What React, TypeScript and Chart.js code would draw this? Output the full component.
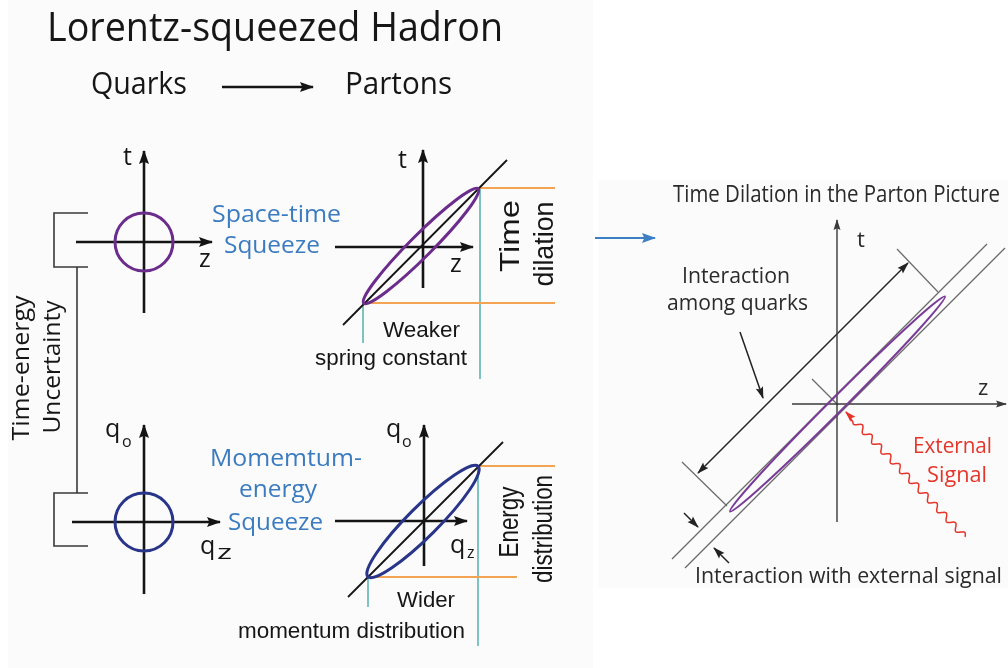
import React, { useEffect, useRef } from "react";
import { Chart, registerables } from "chart.js";

Chart.register(...registerables);

const SHEET_W = 1008;
const SHEET_H = 668;

type Pt = [number, number];

// ---- diagram geometry (sheet units) ----
const quarkToParton: Pt[] = [[222, 87], [313, 87]];
const stQuarkT: Pt[] = [[144, 313], [144, 151]];
const stQuarkZ: Pt[] = [[76, 242], [212, 242]];
const meQuarkQ0: Pt[] = [[144, 594], [144, 425]];
const meQuarkQz: Pt[] = [[72, 522], [220, 522]];
const stPartonT: Pt[] = [[423, 288], [423, 150]];
const stPartonZ: Pt[] = [[335, 247], [473, 247]];
const stLightCone: Pt[] = [[343, 325], [507, 160]];
const mePartonQ0: Pt[] = [[424, 566], [424, 425]];
const mePartonQz: Pt[] = [[335, 521], [467, 521]];
const meLightCone: Pt[] = [[348, 597], [503, 442]];
const bracketTop: Pt[] = [[88, 213], [54, 213], [54, 267], [88, 267]];
const bracketLink: Pt[] = [[77, 267], [77, 493]];
const bracketBottom: Pt[] = [[88, 493], [54, 493], [54, 546], [88, 546]];
const dilationTop: Pt[] = [[480, 188], [555, 188]];
const dilationBottom: Pt[] = [[363, 303], [555, 303]];
const energyTop: Pt[] = [[478, 466], [555, 466]];
const energyBottom: Pt[] = [[368, 577], [517, 577]];
const springLeft: Pt[] = [[363, 303], [363, 343]];
const springRight: Pt[] = [[480, 188], [480, 379]];
const momentumLeft: Pt[] = [[368, 577], [368, 607]];
const momentumRight: Pt[] = [[478, 466], [478, 646]];
const toPartonPicture: Pt[] = [[595, 238], [655, 238]];
const ppTimeAxis: Pt[] = [[837, 522], [837, 220]];
const ppZAxis: Pt[] = [[792, 404], [1006, 404]];
const ppBandUpper: Pt[] = [[672, 559], [987, 244]];
const ppBandLower: Pt[] = [[685, 568], [1005, 248]];
const ppTickTop: Pt[] = [[897, 249], [938, 292]];
const ppTickBottom: Pt[] = [[682, 462], [727, 506]];
const ppTickCenter: Pt[] = [[812, 379], [838, 405]];
const ppQuarkSpan: Pt[] = [[698, 473], [908, 263]];
const ppQuarkPointer: Pt[] = [[740, 332], [763, 398]];
const ppBandArrowIn: Pt[] = [[684, 513], [698, 527]];
const ppBandArrowOut: Pt[] = [[729, 563], [714, 548]];
const externalSignal: Pt[] = [[965, 537], [846, 412]];

// ellipses: centre, semi-major, semi-minor, tilt (deg, screen)
const ellipseCentres: Pt[] = [[144, 242], [144, 522], [421, 246], [423, 521.5], [837.5, 404]];
const ellipseMajor = [29, 29, 81, 78, 152];
const ellipseMinor = [29, 29, 11, 15, 7];
const ellipseTilt = [0, 0, -45, -45, -45];
const ellipseKind = ["purple", "navy", "purple", "navy", "purpleThin"];

// ---- styles ----
const STYLE: Record<string, { color: string; width: number; head?: [number, number] }> = {
  axis: { color: "#141414", width: 2.6, head: [13, 5] },
  cone: { color: "#141414", width: 1.8 },
  bracket: { color: "#3a3a3a", width: 1.6 },
  orange: { color: "#f2a453", width: 2 },
  teal: { color: "#7cc3c1", width: 2 },
  blue: { color: "#3d7fc4", width: 2.2, head: [13, 5] },
  ppAxis: { color: "#3a3a3a", width: 1.4, head: [10, 3.5] },
  ppLine: { color: "#6a6a6a", width: 1.2 },
  ppArrow: { color: "#222222", width: 1.5, head: [11, 3.8] },
};

const ELLIPSE_STYLE: Record<string, { color: string; width: number }> = {
  purple: { color: "#6b2c8c", width: 3 },
  navy: { color: "#283589", width: 3 },
  purpleThin: { color: "#7a3b98", width: 2 },
};

const strokes: { pts: Pt[]; style: string; end?: boolean; start?: boolean }[] = [
  { pts: quarkToParton, style: "axis", end: true },
  { pts: stQuarkT, style: "axis", end: true },
  { pts: stQuarkZ, style: "axis", end: true },
  { pts: meQuarkQ0, style: "axis", end: true },
  { pts: meQuarkQz, style: "axis", end: true },
  { pts: stPartonT, style: "axis", end: true },
  { pts: stPartonZ, style: "axis", end: true },
  { pts: stLightCone, style: "cone" },
  { pts: mePartonQ0, style: "axis", end: true },
  { pts: mePartonQz, style: "axis", end: true },
  { pts: meLightCone, style: "cone" },
  { pts: bracketTop, style: "bracket" },
  { pts: bracketLink, style: "bracket" },
  { pts: bracketBottom, style: "bracket" },
  { pts: dilationTop, style: "orange" },
  { pts: dilationBottom, style: "orange" },
  { pts: energyTop, style: "orange" },
  { pts: energyBottom, style: "orange" },
  { pts: springLeft, style: "teal" },
  { pts: springRight, style: "teal" },
  { pts: momentumLeft, style: "teal" },
  { pts: momentumRight, style: "teal" },
  { pts: toPartonPicture, style: "blue", end: true },
  { pts: ppTimeAxis, style: "ppAxis", end: true },
  { pts: ppZAxis, style: "ppAxis", end: true },
  { pts: ppBandUpper, style: "ppLine" },
  { pts: ppBandLower, style: "ppLine" },
  { pts: ppTickTop, style: "ppLine" },
  { pts: ppTickBottom, style: "ppLine" },
  { pts: ppTickCenter, style: "ppLine" },
  { pts: ppQuarkSpan, style: "ppArrow", end: true, start: true },
  { pts: ppQuarkPointer, style: "ppArrow", end: true },
  { pts: ppBandArrowIn, style: "ppArrow", end: true },
  { pts: ppBandArrowOut, style: "ppArrow", end: true },
];

// ---- labels ----
const MYRIAD = '"Open Sans", "Noto Sans", sans-serif';
const ARIAL = '"Liberation Sans", Arial, sans-serif';
type Label = {
  text: string; x: number; y: number; size: number; font: string; color: string;
  w?: number; rot?: boolean;
};
const BLUE_TXT = "#3b7bbf";
const DARK = "#161616";
const GREY_TXT = "#2a2a2a";
const RED_TXT = "#e5352a";
const labels: Label[] = [
  { text: "Lorentz-squeezed Hadron", x: 47, y: 41, size: 40, font: MYRIAD, color: DARK, w: 456 },
  { text: "Quarks", x: 91, y: 94, size: 31, font: MYRIAD, color: DARK, w: 96 },
  { text: "Partons", x: 345, y: 94, size: 31, font: MYRIAD, color: DARK, w: 107 },
  { text: "Space-time", x: 212, y: 222, size: 24, font: MYRIAD, color: BLUE_TXT, w: 129 },
  { text: "Squeeze", x: 224, y: 253, size: 24, font: MYRIAD, color: BLUE_TXT, w: 96 },
  { text: "Momemtum-", x: 210, y: 466, size: 24, font: MYRIAD, color: BLUE_TXT, w: 152 },
  { text: "energy", x: 239, y: 497, size: 24, font: MYRIAD, color: BLUE_TXT, w: 78 },
  { text: "Squeeze", x: 228, y: 530, size: 24, font: MYRIAD, color: BLUE_TXT, w: 95 },
  { text: "t", x: 123, y: 165, size: 25, font: MYRIAD, color: DARK },
  { text: "z", x: 199, y: 267, size: 25, font: MYRIAD, color: DARK },
  { text: "q", x: 105, y: 437, size: 25, font: MYRIAD, color: DARK },
  { text: "o", x: 122, y: 447, size: 16, font: MYRIAD, color: DARK },
  { text: "q", x: 200, y: 554, size: 25, font: MYRIAD, color: DARK },
  { text: "z", x: 217, y: 559, size: 20, font: MYRIAD, color: DARK, w: 15 },
  { text: "t", x: 398, y: 168, size: 25, font: MYRIAD, color: DARK },
  { text: "z", x: 450, y: 272, size: 25, font: MYRIAD, color: DARK },
  { text: "q", x: 386, y: 437, size: 25, font: MYRIAD, color: DARK },
  { text: "o", x: 402, y: 447, size: 16, font: MYRIAD, color: DARK },
  { text: "q", x: 450, y: 553, size: 25, font: MYRIAD, color: DARK },
  { text: "z", x: 467, y: 558, size: 16, font: MYRIAD, color: DARK },
  { text: "Weaker", x: 383, y: 337, size: 22, font: ARIAL, color: DARK, w: 77 },
  { text: "spring constant", x: 315, y: 365, size: 22, font: ARIAL, color: DARK, w: 152 },
  { text: "Wider", x: 397, y: 607, size: 22, font: ARIAL, color: DARK, w: 58 },
  { text: "momentum distribution", x: 238, y: 638, size: 22, font: ARIAL, color: DARK, w: 227 },
  { text: "Time", x: 519, y: 236, size: 27, font: ARIAL, color: DARK, w: 72, rot: true },
  { text: "dilation", x: 553, y: 244, size: 27, font: ARIAL, color: DARK, w: 85, rot: true },
  { text: "Energy", x: 518, y: 522, size: 27, font: ARIAL, color: DARK, w: 71, rot: true },
  { text: "distribution", x: 552, y: 529, size: 27, font: ARIAL, color: DARK, w: 108, rot: true },
  { text: "Time-energy", x: 29, y: 368, size: 23, font: MYRIAD, color: DARK, w: 145, rot: true },
  { text: "Uncertainty", x: 60, y: 367, size: 23, font: MYRIAD, color: DARK, w: 133, rot: true },
  { text: "Time Dilation in the Parton Picture", x: 673, y: 202, size: 23, font: MYRIAD, color: GREY_TXT, w: 327 },
  { text: "Interaction", x: 682, y: 283, size: 22, font: MYRIAD, color: GREY_TXT, w: 108 },
  { text: "among quarks", x: 667, y: 310, size: 22, font: MYRIAD, color: GREY_TXT, w: 141 },
  { text: "t", x: 857, y: 247, size: 22, font: MYRIAD, color: GREY_TXT },
  { text: "z", x: 978, y: 395, size: 22, font: MYRIAD, color: GREY_TXT },
  { text: "External", x: 913, y: 453, size: 22, font: MYRIAD, color: RED_TXT, w: 79 },
  { text: "Signal", x: 927, y: 482, size: 22, font: MYRIAD, color: RED_TXT, w: 60 },
  { text: "Interaction with external signal", x: 695, y: 583, size: 22, font: MYRIAD, color: GREY_TXT, w: 307 },
];

function drawHead(ctx: CanvasRenderingContext2D, x1: number, y1: number, x2: number, y2: number, len: number, hw: number, color: string) {
  const ang = Math.atan2(y2 - y1, x2 - x1);
  ctx.save();
  ctx.translate(x2, y2);
  ctx.rotate(ang);
  ctx.fillStyle = color;
  ctx.beginPath();
  ctx.moveTo(1, 0);
  ctx.lineTo(-len, hw);
  ctx.lineTo(-len * 0.82, 0);
  ctx.lineTo(-len, -hw);
  ctx.closePath();
  ctx.fill();
  ctx.restore();
}

const backgroundPlugin = {
  id: "sheetBackground",
  beforeDraw(chart: any) {
    const { ctx } = chart;
    const sx = chart.scales.x, sy = chart.scales.y;
    ctx.save();
    ctx.fillStyle = "#ffffff";
    ctx.fillRect(0, 0, chart.width, chart.height);
    ctx.fillStyle = "#fbfbfb";
    const lx0 = sx.getPixelForValue(8), lx1 = sx.getPixelForValue(593);
    ctx.fillRect(lx0, 0, lx1 - lx0, chart.height);
    ctx.fillStyle = "#fbfbfb";
    const rx0 = sx.getPixelForValue(598), ry0 = sy.getPixelForValue(180), ry1 = sy.getPixelForValue(588);
    ctx.fillRect(rx0, ry0, chart.width - rx0, ry1 - ry0);
    ctx.restore();
  },
};

const decorPlugin = {
  id: "diagramDecor",
  afterDatasetsDraw(chart: any) {
    const { ctx } = chart;
    const sx = chart.scales.x, sy = chart.scales.y;
    const px = (v: number) => sx.getPixelForValue(v);
    const py = (v: number) => sy.getPixelForValue(v);

    // ellipses
    ellipseCentres.forEach((c, i) => {
      const st = ELLIPSE_STYLE[ellipseKind[i]];
      const cx = px(c[0]), cy = py(c[1]);
      const rx = Math.abs(px(c[0] + ellipseMajor[i]) - cx);
      const ry = Math.abs(py(c[1] + ellipseMinor[i]) - cy);
      ctx.save();
      ctx.strokeStyle = st.color;
      ctx.lineWidth = st.width;
      ctx.beginPath();
      ctx.ellipse(cx, cy, rx, ry, (ellipseTilt[i] * Math.PI) / 180, 0, Math.PI * 2);
      ctx.stroke();
      ctx.restore();
    });

    // arrow heads
    chart.data.datasets.forEach((ds: any, i: number) => {
      const pts = chart.getDatasetMeta(i).data;
      if (!ds.headLen || pts.length < 2) return;
      if (ds.arrowEnd) {
        const a = pts[pts.length - 2], b = pts[pts.length - 1];
        drawHead(ctx, a.x, a.y, b.x, b.y, ds.headLen, ds.headHW, ds.borderColor);
      }
      if (ds.arrowStart) {
        const a = pts[1], b = pts[0];
        drawHead(ctx, a.x, a.y, b.x, b.y, ds.headLen, ds.headHW, ds.borderColor);
      }
    });

    // external signal: wavy photon line
    {
      const x1 = px(externalSignal[0][0]), y1 = py(externalSignal[0][1]);
      const x2 = px(externalSignal[1][0]), y2 = py(externalSignal[1][1]);
      const len = Math.hypot(x2 - x1, y2 - y1);
      const ux = (x2 - x1) / len, uy = (y2 - y1) / len;
      const nx = -uy, ny = ux;
      const waveLen = 13.5, amp = 3, straight = 12;
      ctx.save();
      ctx.strokeStyle = RED_TXT;
      ctx.lineWidth = 1.5;
      ctx.beginPath();
      for (let s = 0; s <= len - straight; s += 0.5) {
        const o = amp * Math.sin((2 * Math.PI * s) / waveLen);
        const X = x1 + ux * s + nx * o, Y = y1 + uy * s + ny * o;
        if (s === 0) ctx.moveTo(X, Y); else ctx.lineTo(X, Y);
      }
      ctx.lineTo(x2, y2);
      ctx.stroke();
      ctx.restore();
      drawHead(ctx, x1, y1, x2, y2, 10, 3.5, RED_TXT);
    }

    // labels
    labels.forEach((l) => {
      ctx.save();
      ctx.font = `${l.size}px ${l.font}`;
      ctx.fillStyle = l.color;
      ctx.textBaseline = "alphabetic";
      const m = ctx.measureText(l.text).width;
      const k = l.w ? l.w / m : 1;
      ctx.translate(px(l.x), py(l.y));
      if (l.rot) {
        ctx.rotate(-Math.PI / 2);
        ctx.scale(k, 1);
        ctx.textAlign = "center";
        ctx.fillText(l.text, 0, 0);
      } else {
        ctx.scale(k, 1);
        ctx.textAlign = "left";
        ctx.fillText(l.text, 0, 0);
      }
      ctx.restore();
    });
  },
};

export default function App() {
  const ref = useRef<HTMLCanvasElement | null>(null);
  useEffect(() => {
    if (!ref.current) return;
    const datasets = strokes.map((s) => {
      const st = STYLE[s.style];
      return {
        data: s.pts.map(([x, y]) => ({ x, y })),
        showLine: true,
        borderColor: st.color,
        borderWidth: st.width,
        pointRadius: 0,
        pointHoverRadius: 0,
        fill: false,
        tension: 0,
        borderCapStyle: "butt",
        arrowEnd: !!s.end,
        arrowStart: !!s.start,
        headLen: st.head ? st.head[0] : 0,
        headHW: st.head ? st.head[1] : 0,
      } as any;
    });
    const chart = new Chart(ref.current, {
      type: "scatter",
      data: { datasets },
      options: {
        responsive: false,
        animation: false,
        devicePixelRatio: 1,
        layout: { padding: 0 },
        events: [],
        plugins: { legend: { display: false }, tooltip: { enabled: false }, title: { display: false } },
        scales: {
          x: { type: "linear", min: 0, max: SHEET_W, display: false },
          y: { type: "linear", min: 0, max: SHEET_H, reverse: true, display: false },
        },
      },
      plugins: [backgroundPlugin, decorPlugin],
    });
    return () => chart.destroy();
  }, []);
  return (
    <div style={{ position: "fixed", left: 0, top: 0, width: SHEET_W, height: SHEET_H, background: "#fff" }}>
      <canvas ref={ref} width={SHEET_W} height={SHEET_H} style={{ display: "block" }} />
    </div>
  );
}
